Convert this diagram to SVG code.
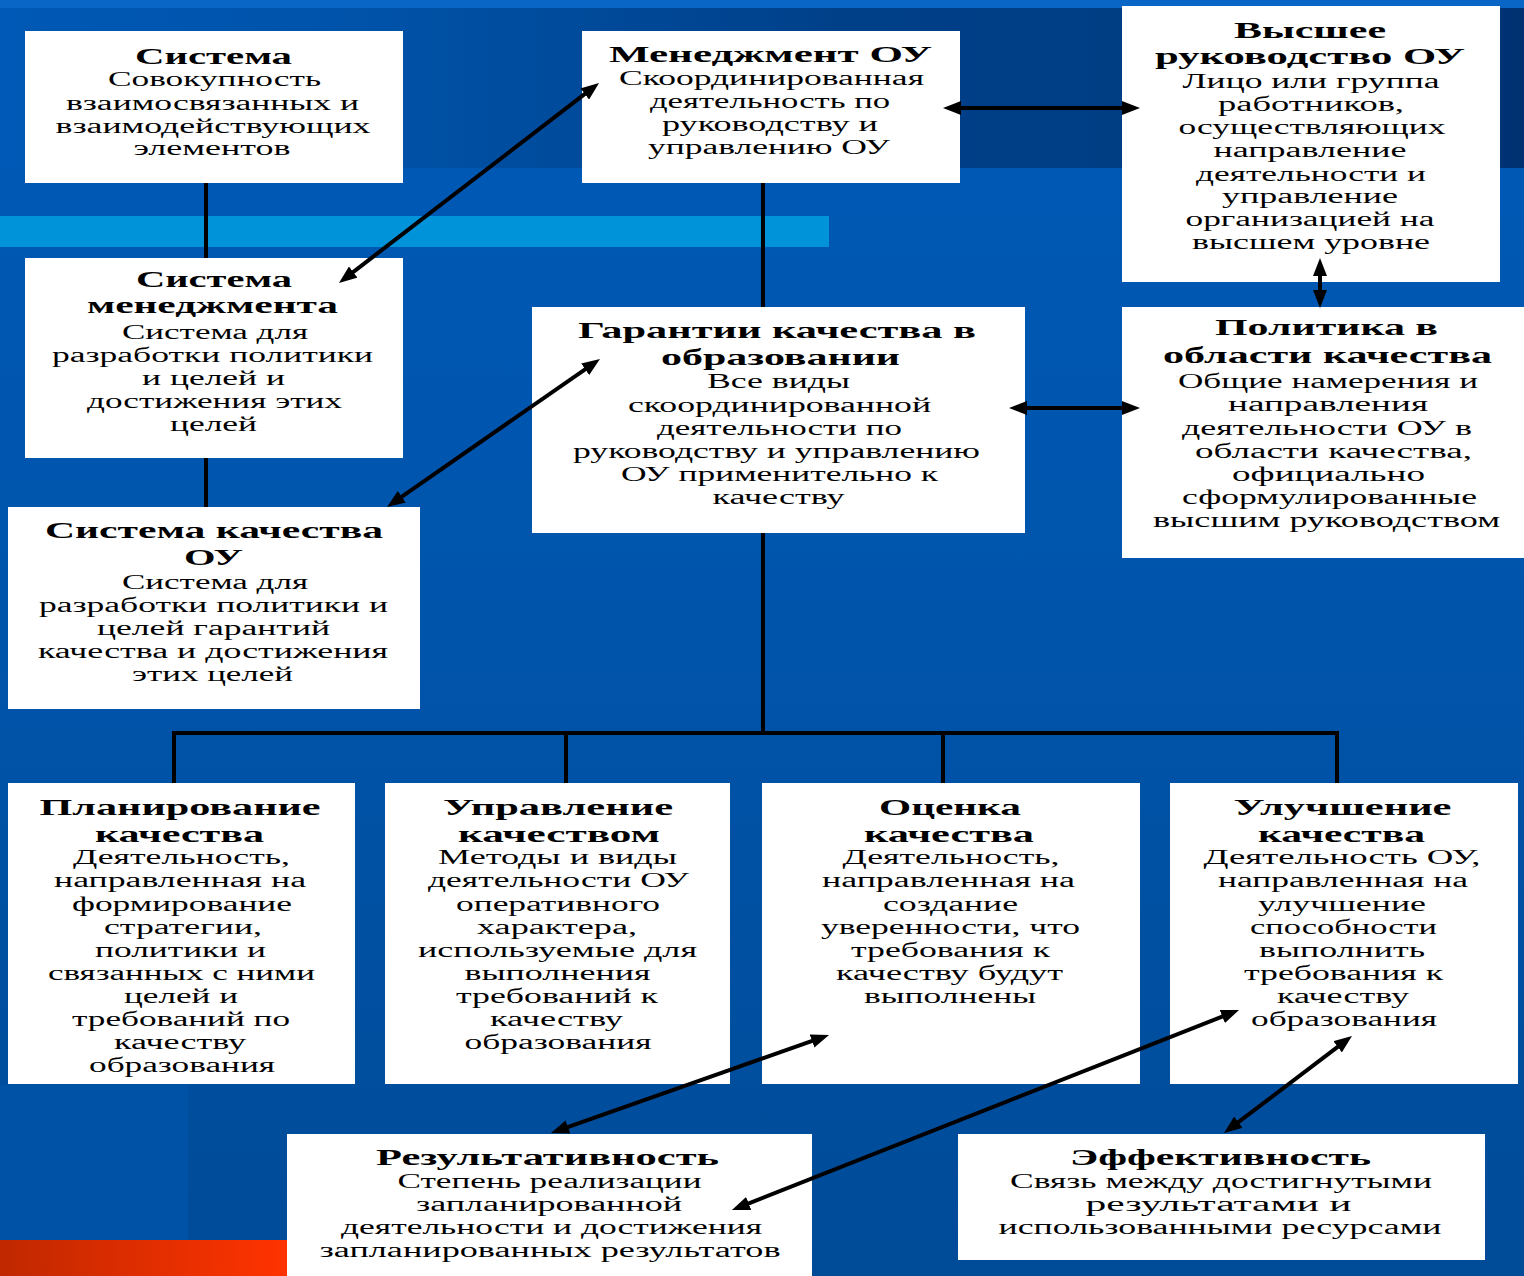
<svg xmlns="http://www.w3.org/2000/svg" width="1524" height="1276" viewBox="0 0 1524 1276">
<defs>
<linearGradient id="topg" x1="0" y1="0" x2="1" y2="0">
<stop offset="0" stop-color="#0059b6"/>
<stop offset="0.25" stop-color="#0052a8"/>
<stop offset="0.55" stop-color="#004089"/>
<stop offset="0.95" stop-color="#003b7e"/>
<stop offset="1" stop-color="#003070"/>
</linearGradient>
<linearGradient id="bodyg" x1="0" y1="0" x2="0" y2="1">
<stop offset="0" stop-color="#005ab8"/>
<stop offset="0.5" stop-color="#0054aa"/>
<stop offset="1" stop-color="#004b98"/>
</linearGradient>
<linearGradient id="redg" x1="0" y1="0" x2="1" y2="0">
<stop offset="0" stop-color="#c02800"/>
<stop offset="1" stop-color="#ff3300"/>
</linearGradient>
<marker id="ah" viewBox="0 0 18 14" refX="10" refY="7" markerWidth="18" markerHeight="14" markerUnits="userSpaceOnUse" orient="auto-start-reverse">
<path d="M0,0 L18,7 L0,14 Z" fill="#000"/>
</marker>
<style>
.box{fill:#fff}
.t{font-family:"Liberation Serif","Times New Roman",serif;font-weight:bold;font-size:24px;fill:#000;text-anchor:middle}
.b{font-family:"Liberation Serif","Times New Roman",serif;font-size:20px;fill:#000;text-anchor:middle}
.ln{stroke:#000;stroke-width:4;fill:none}
.ar{stroke:#000;stroke-width:4;fill:none;marker-start:url(#ah);marker-end:url(#ah)}
</style>
</defs>

<g id="background">
<rect x="0" y="0" width="1524" height="1276" fill="url(#bodyg)"/>
<rect x="0" y="0" width="1524" height="8" fill="#0a66c6"/>
<rect x="0" y="8" width="1524" height="160" fill="url(#topg)"/>
<rect x="0" y="168" width="1524" height="48" fill="#0058b5"/>
<rect x="0" y="216" width="829" height="31" fill="#0093da"/>
<rect x="0" y="1085" width="188" height="155" fill="#0052a6"/>
<rect x="0" y="1240" width="287" height="36" fill="url(#redg)"/>
</g>

<g id="n-sistema">
<rect class="box" x="25" y="31" width="378" height="152"/>
<text class="t" x="213.5" y="64" textLength="157" lengthAdjust="spacingAndGlyphs">Система</text>
<text class="b" x="214.5" y="86" textLength="213" lengthAdjust="spacingAndGlyphs">Совокупность</text>
<text class="b" x="212.5" y="110" textLength="293" lengthAdjust="spacingAndGlyphs">взаимосвязанных и</text>
<text class="b" x="213" y="133" textLength="315" lengthAdjust="spacingAndGlyphs">взаимодействующих</text>
<text class="b" x="212" y="155" textLength="157" lengthAdjust="spacingAndGlyphs">элементов</text>
</g>

<g id="n-menedzhment">
<rect class="box" x="582" y="31" width="378" height="152"/>
<text class="t" x="770.5" y="62" textLength="323" lengthAdjust="spacingAndGlyphs">Менеджмент ОУ</text>
<text class="b" x="771.5" y="85" textLength="305" lengthAdjust="spacingAndGlyphs">Скоординированная</text>
<text class="b" x="770" y="108" textLength="240" lengthAdjust="spacingAndGlyphs">деятельность по</text>
<text class="b" x="770" y="131" textLength="216" lengthAdjust="spacingAndGlyphs">руководству и</text>
<text class="b" x="769" y="154" textLength="242" lengthAdjust="spacingAndGlyphs">управлению ОУ</text>
</g>

<g id="n-vysshee">
<rect class="box" x="1122" y="6" width="378" height="276"/>
<text class="t" x="1310" y="38" textLength="152" lengthAdjust="spacingAndGlyphs">Высшее</text>
<text class="t" x="1310" y="64" textLength="310" lengthAdjust="spacingAndGlyphs">руководство ОУ</text>
<text class="b" x="1311" y="88" textLength="257" lengthAdjust="spacingAndGlyphs">Лицо или группа</text>
<text class="b" x="1311" y="111" textLength="186" lengthAdjust="spacingAndGlyphs">работников,</text>
<text class="b" x="1312" y="134" textLength="267" lengthAdjust="spacingAndGlyphs">осуществляющих</text>
<text class="b" x="1310" y="157" textLength="193" lengthAdjust="spacingAndGlyphs">направление</text>
<text class="b" x="1311" y="181" textLength="230" lengthAdjust="spacingAndGlyphs">деятельности и</text>
<text class="b" x="1310" y="203" textLength="176" lengthAdjust="spacingAndGlyphs">управление</text>
<text class="b" x="1310" y="226" textLength="249" lengthAdjust="spacingAndGlyphs">организацией на</text>
<text class="b" x="1311" y="249" textLength="238" lengthAdjust="spacingAndGlyphs">высшем уровне</text>
</g>

<g id="n-sistema-menedzhmenta">
<rect class="box" x="25" y="258" width="378" height="200"/>
<text class="t" x="214" y="287" textLength="156" lengthAdjust="spacingAndGlyphs">Система</text>
<text class="t" x="212.5" y="313" textLength="251" lengthAdjust="spacingAndGlyphs">менеджмента</text>
<text class="b" x="215" y="339" textLength="186" lengthAdjust="spacingAndGlyphs">Система для</text>
<text class="b" x="212.5" y="362" textLength="321" lengthAdjust="spacingAndGlyphs">разработки политики</text>
<text class="b" x="213.5" y="385" textLength="143" lengthAdjust="spacingAndGlyphs">и целей и</text>
<text class="b" x="214.5" y="408" textLength="255" lengthAdjust="spacingAndGlyphs">достижения этих</text>
<text class="b" x="213.5" y="431" textLength="87" lengthAdjust="spacingAndGlyphs">целей</text>
</g>

<g id="n-garantii">
<rect class="box" x="532" y="307" width="493" height="226"/>
<text class="t" x="777" y="338" textLength="398" lengthAdjust="spacingAndGlyphs">Гарантии качества в</text>
<text class="t" x="780.5" y="365" textLength="239" lengthAdjust="spacingAndGlyphs">образовании</text>
<text class="b" x="778.5" y="388" textLength="143" lengthAdjust="spacingAndGlyphs">Все виды</text>
<text class="b" x="779.5" y="412" textLength="303" lengthAdjust="spacingAndGlyphs">скоординированной</text>
<text class="b" x="779.5" y="435" textLength="245" lengthAdjust="spacingAndGlyphs">деятельности по</text>
<text class="b" x="776.5" y="458" textLength="407" lengthAdjust="spacingAndGlyphs">руководству и управлению</text>
<text class="b" x="779.5" y="481" textLength="317" lengthAdjust="spacingAndGlyphs">ОУ применительно к</text>
<text class="b" x="778.5" y="504" textLength="132" lengthAdjust="spacingAndGlyphs">качеству</text>
</g>

<g id="n-politika">
<rect class="box" x="1122" y="307" width="402" height="251"/>
<text class="t" x="1326.5" y="335" textLength="223" lengthAdjust="spacingAndGlyphs">Политика в</text>
<text class="t" x="1327.5" y="363" textLength="329" lengthAdjust="spacingAndGlyphs">области качества</text>
<text class="b" x="1328" y="388" textLength="300" lengthAdjust="spacingAndGlyphs">Общие намерения и</text>
<text class="b" x="1328" y="411" textLength="200" lengthAdjust="spacingAndGlyphs">направления</text>
<text class="b" x="1327" y="435" textLength="290" lengthAdjust="spacingAndGlyphs">деятельности ОУ в</text>
<text class="b" x="1333.5" y="458" textLength="277" lengthAdjust="spacingAndGlyphs">области качества,</text>
<text class="b" x="1328.5" y="481" textLength="193" lengthAdjust="spacingAndGlyphs">официально</text>
<text class="b" x="1329.5" y="504" textLength="295" lengthAdjust="spacingAndGlyphs">сформулированные</text>
<text class="b" x="1326.5" y="527" textLength="347" lengthAdjust="spacingAndGlyphs">высшим руководством</text>
</g>

<g id="n-sistema-kachestva">
<rect class="box" x="8" y="507" width="412" height="202"/>
<text class="t" x="214" y="538" textLength="338" lengthAdjust="spacingAndGlyphs">Система качества</text>
<text class="t" x="213.5" y="565" textLength="59" lengthAdjust="spacingAndGlyphs">ОУ</text>
<text class="b" x="215" y="589" textLength="186" lengthAdjust="spacingAndGlyphs">Система для</text>
<text class="b" x="213.5" y="612" textLength="349" lengthAdjust="spacingAndGlyphs">разработки политики и</text>
<text class="b" x="213.5" y="635" textLength="233" lengthAdjust="spacingAndGlyphs">целей гарантий</text>
<text class="b" x="213" y="658" textLength="350" lengthAdjust="spacingAndGlyphs">качества и достижения</text>
<text class="b" x="212.5" y="681" textLength="161" lengthAdjust="spacingAndGlyphs">этих целей</text>
</g>

<g id="n-planirovanie">
<rect class="box" x="8" y="783" width="347" height="301"/>
<text class="t" x="180" y="815" textLength="281" lengthAdjust="spacingAndGlyphs">Планирование</text>
<text class="t" x="179.5" y="842" textLength="169" lengthAdjust="spacingAndGlyphs">качества</text>
<text class="b" x="181.5" y="864" textLength="217" lengthAdjust="spacingAndGlyphs">Деятельность,</text>
<text class="b" x="180" y="887" textLength="252" lengthAdjust="spacingAndGlyphs">направленная на</text>
<text class="b" x="182" y="911" textLength="220" lengthAdjust="spacingAndGlyphs">формирование</text>
<text class="b" x="183" y="934" textLength="158" lengthAdjust="spacingAndGlyphs">стратегии,</text>
<text class="b" x="180.5" y="957" textLength="171" lengthAdjust="spacingAndGlyphs">политики и</text>
<text class="b" x="181.5" y="980" textLength="267" lengthAdjust="spacingAndGlyphs">связанных с ними</text>
<text class="b" x="181" y="1003" textLength="114" lengthAdjust="spacingAndGlyphs">целей и</text>
<text class="b" x="181" y="1026" textLength="218" lengthAdjust="spacingAndGlyphs">требований по</text>
<text class="b" x="180" y="1049" textLength="132" lengthAdjust="spacingAndGlyphs">качеству</text>
<text class="b" x="182" y="1072" textLength="186" lengthAdjust="spacingAndGlyphs">образования</text>
</g>

<g id="n-upravlenie">
<rect class="box" x="385" y="783" width="345" height="301"/>
<text class="t" x="558" y="815" textLength="230" lengthAdjust="spacingAndGlyphs">Управление</text>
<text class="t" x="559" y="842" textLength="202" lengthAdjust="spacingAndGlyphs">качеством</text>
<text class="b" x="557.5" y="864" textLength="239" lengthAdjust="spacingAndGlyphs">Методы и виды</text>
<text class="b" x="558.5" y="887" textLength="261" lengthAdjust="spacingAndGlyphs">деятельности ОУ</text>
<text class="b" x="558" y="911" textLength="204" lengthAdjust="spacingAndGlyphs">оперативного</text>
<text class="b" x="557" y="934" textLength="160" lengthAdjust="spacingAndGlyphs">характера,</text>
<text class="b" x="557.5" y="957" textLength="279" lengthAdjust="spacingAndGlyphs">используемые для</text>
<text class="b" x="557.5" y="980" textLength="186" lengthAdjust="spacingAndGlyphs">выполнения</text>
<text class="b" x="557" y="1003" textLength="202" lengthAdjust="spacingAndGlyphs">требований к</text>
<text class="b" x="556.5" y="1026" textLength="133" lengthAdjust="spacingAndGlyphs">качеству</text>
<text class="b" x="558" y="1049" textLength="187" lengthAdjust="spacingAndGlyphs">образования</text>
</g>

<g id="n-ocenka">
<rect class="box" x="762" y="783" width="378" height="301"/>
<text class="t" x="950" y="815" textLength="142" lengthAdjust="spacingAndGlyphs">Оценка</text>
<text class="t" x="949" y="842" textLength="170" lengthAdjust="spacingAndGlyphs">качества</text>
<text class="b" x="951" y="864" textLength="217" lengthAdjust="spacingAndGlyphs">Деятельность,</text>
<text class="b" x="948.5" y="887" textLength="253" lengthAdjust="spacingAndGlyphs">направленная на</text>
<text class="b" x="950.5" y="911" textLength="135" lengthAdjust="spacingAndGlyphs">создание</text>
<text class="b" x="950.5" y="934" textLength="259" lengthAdjust="spacingAndGlyphs">уверенности, что</text>
<text class="b" x="950.5" y="957" textLength="199" lengthAdjust="spacingAndGlyphs">требования к</text>
<text class="b" x="949.5" y="980" textLength="227" lengthAdjust="spacingAndGlyphs">качеству будут</text>
<text class="b" x="950" y="1003" textLength="172" lengthAdjust="spacingAndGlyphs">выполнены</text>
</g>

<g id="n-uluchshenie">
<rect class="box" x="1170" y="783" width="348" height="301"/>
<text class="t" x="1342.5" y="815" textLength="218" lengthAdjust="spacingAndGlyphs">Улучшение</text>
<text class="t" x="1341.5" y="842" textLength="167" lengthAdjust="spacingAndGlyphs">качества</text>
<text class="b" x="1342" y="864" textLength="277" lengthAdjust="spacingAndGlyphs">Деятельность ОУ,</text>
<text class="b" x="1343" y="887" textLength="250" lengthAdjust="spacingAndGlyphs">направленная на</text>
<text class="b" x="1342" y="911" textLength="168" lengthAdjust="spacingAndGlyphs">улучшение</text>
<text class="b" x="1343.5" y="934" textLength="187" lengthAdjust="spacingAndGlyphs">способности</text>
<text class="b" x="1342" y="957" textLength="166" lengthAdjust="spacingAndGlyphs">выполнить</text>
<text class="b" x="1343.5" y="980" textLength="199" lengthAdjust="spacingAndGlyphs">требования к</text>
<text class="b" x="1343" y="1003" textLength="132" lengthAdjust="spacingAndGlyphs">качеству</text>
<text class="b" x="1344" y="1026" textLength="186" lengthAdjust="spacingAndGlyphs">образования</text>
</g>

<g id="n-rezultativnost">
<rect class="box" x="287" y="1134" width="525" height="142"/>
<text class="t" x="547.5" y="1165" textLength="343" lengthAdjust="spacingAndGlyphs">Результативность</text>
<text class="b" x="549.5" y="1188" textLength="304" lengthAdjust="spacingAndGlyphs">Степень реализации</text>
<text class="b" x="549" y="1211" textLength="266" lengthAdjust="spacingAndGlyphs">запланированной</text>
<text class="b" x="551.5" y="1234" textLength="421" lengthAdjust="spacingAndGlyphs">деятельности и достижения</text>
<text class="b" x="550" y="1257" textLength="461" lengthAdjust="spacingAndGlyphs">запланированных результатов</text>
</g>

<g id="n-effektivnost">
<rect class="box" x="958" y="1134" width="527" height="126"/>
<text class="t" x="1220.5" y="1165" textLength="301" lengthAdjust="spacingAndGlyphs">Эффективность</text>
<text class="b" x="1221" y="1188" textLength="422" lengthAdjust="spacingAndGlyphs">Связь между достигнутыми</text>
<text class="b" x="1218.5" y="1211" textLength="266" lengthAdjust="spacingAndGlyphs">результатами и</text>
<text class="b" x="1220" y="1234" textLength="443" lengthAdjust="spacingAndGlyphs">использованными ресурсами</text>
</g>

<g id="connectors">
<line class="ln" x1="206" y1="183" x2="206" y2="258"/>
<line class="ln" x1="206" y1="458" x2="206" y2="507"/>
<line class="ln" x1="763" y1="183" x2="763" y2="307"/>
<line class="ln" x1="763" y1="533" x2="763" y2="733"/>
<line class="ln" x1="172" y1="733" x2="1339" y2="733"/>
<line class="ln" x1="174" y1="733" x2="174" y2="783"/>
<line class="ln" x1="566" y1="733" x2="566" y2="783"/>
<line class="ln" x1="943" y1="733" x2="943" y2="783"/>
<line class="ln" x1="1337" y1="733" x2="1337" y2="783"/>
<line class="ar" x1="345.3" y1="278.1" x2="592.7" y2="87.9"/>
<line class="ar" x1="951" y1="108" x2="1132" y2="108"/>
<line class="ar" x1="1320" y1="266" x2="1320" y2="300"/>
<line class="ar" x1="1017" y1="408" x2="1132" y2="408"/>
<line class="ar" x1="393.6" y1="502.4" x2="593.4" y2="363.6"/>
<line class="ar" x1="558.5" y1="1130.3" x2="821.5" y2="1037.7"/>
<line class="ar" x1="739.4" y1="1207.1" x2="1231.6" y2="1012.9"/>
<line class="ar" x1="1230.4" y1="1128.2" x2="1345.6" y2="1040.8"/>
</g>
</svg>
